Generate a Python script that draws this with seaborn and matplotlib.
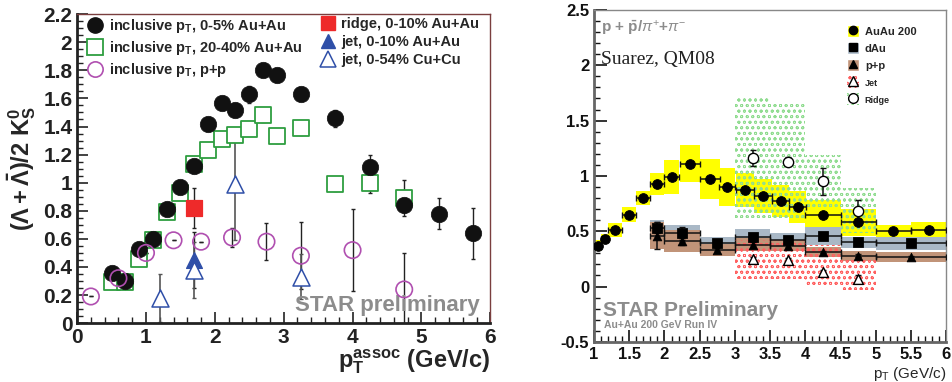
import numpy as np
import pandas as pd
import matplotlib
matplotlib.use("Agg")
import matplotlib.pyplot as plt
import seaborn as sns
from matplotlib.lines import Line2D
from matplotlib.patches import Patch
from matplotlib.ticker import MultipleLocator, FormatStrFormatter

sns.set_theme(style="ticks")
plt.rcParams["font.family"] = ["Liberation Sans", "DejaVu Sans"]
plt.rcParams["mathtext.fontset"] = "custom"
plt.rcParams["mathtext.rm"] = "Liberation Sans"
plt.rcParams["mathtext.bf"] = "Liberation Sans:bold"
plt.rcParams["mathtext.it"] = "Liberation Sans:italic"
plt.rcParams["hatch.linewidth"] = 0.6

# ---------------- left panel: (Lambda + anti-Lambda) / 2 K0s ----------------
auau05_pt = [0.5, 0.7, 0.9, 1.1, 1.3, 1.5, 1.7, 1.9, 2.1, 2.3, 2.5, 2.7, 2.9, 3.25, 3.75, 4.25, 4.75, 5.25, 5.75]
auau05_val = [0.36, 0.30, 0.53, 0.60, 0.81, 0.97, 1.12, 1.42, 1.57, 1.52, 1.63, 1.80, 1.77, 1.63, 1.46, 1.11, 0.84, 0.78, 0.64]
auau05_err = [0.01, 0.01, 0.01, 0.01, 0.01, 0.01, 0.01, 0.01, 0.02, 0.02, 0.06, 0.02, 0.02, 0.02, 0.06, 0.09, 0.05, 0.11, 0.18]

auau2040_pt = [0.5, 0.7, 0.9, 1.1, 1.3, 1.5, 1.7, 1.9, 2.1, 2.3, 2.5, 2.7, 2.9, 3.25, 3.75, 4.25, 4.75]
auau2040_val = [0.29, 0.29, 0.46, 0.59, 0.79, 0.93, 1.13, 1.23, 1.31, 1.34, 1.38, 1.48, 1.33, 1.39, 0.99, 1.00, 0.89]
auau2040_err = [0.01, 0.01, 0.01, 0.01, 0.01, 0.01, 0.01, 0.01, 0.01, 0.01, 0.01, 0.05, 0.05, 0.05, 0.05, 0.07, 0.13]

pp_pt = [0.2, 0.6, 1.0, 1.4, 1.8, 2.25, 2.75, 3.25, 4.0, 4.75]
pp_val = [0.19, 0.32, 0.50, 0.59, 0.58, 0.61, 0.58, 0.48, 0.52, 0.24]
pp_err = [0.0, 0.0, 0.0, 0.0, 0.0, 0.07, 0.13, 0.24, 0.29, 0.26]

ridge_pt = [1.7]
ridge_val = [0.82]
ridge_err = [0.14]

jetau_pt = [1.7]
jetau_val = [0.45]
jetau_err = [0.20]

jetcu_pt = [1.2, 1.7, 2.3, 3.25]
jetcu_val = [0.18, 0.38, 0.99, 0.33]
jetcu_err = [0.17, 0.20, 0.40, 0.16]

# ---------------- right panel: p + pbar / pi+ + pi- ----------------
auau_pt = [1.05, 1.15, 1.3, 1.5, 1.7, 1.9, 2.1, 2.36, 2.65, 2.89, 3.14, 3.4, 3.65, 3.89, 4.25, 4.75, 5.25, 5.75]
auau_w = [0.1, 0.1, 0.2, 0.2, 0.2, 0.2, 0.22, 0.28, 0.28, 0.22, 0.26, 0.26, 0.24, 0.24, 0.5, 0.5, 0.5, 0.5]
auau_val = [0.37, 0.43, 0.51, 0.65, 0.80, 0.93, 0.99, 1.11, 0.97, 0.90, 0.87, 0.82, 0.77, 0.72, 0.65, 0.58, 0.50, 0.51]
auau_sys = [0.05, 0.045, 0.06, 0.065, 0.065, 0.10, 0.15, 0.165, 0.18, 0.17, 0.155, 0.155, 0.145, 0.145, 0.13, 0.125, 0.06, 0.075]

dau_pt = [1.9, 2.25, 2.75, 3.25, 3.75, 4.25, 4.75, 5.5]
dau_w = [0.2, 0.5, 0.5, 0.5, 0.5, 0.5, 0.5, 1.0]
dau_val = [0.53, 0.48, 0.39, 0.45, 0.42, 0.46, 0.40, 0.39]
dau_err = [0.05, 0.06, 0.02, 0.02, 0.02, 0.02, 0.02, 0.03]
dau_sys = [0.07, 0.08, 0.06, 0.07, 0.06, 0.08, 0.05, 0.06]

ppr_pt = [1.9, 2.25, 2.75, 3.25, 3.75, 4.25, 4.75, 5.5]
ppr_w = [0.2, 0.5, 0.5, 0.5, 0.5, 0.5, 0.5, 1.0]
ppr_val = [0.46, 0.41, 0.33, 0.38, 0.37, 0.31, 0.28, 0.27]
ppr_err = [0.12, 0.03, 0.02, 0.02, 0.02, 0.01, 0.01, 0.01]
ppr_sys = [0.12, 0.10, 0.055, 0.06, 0.05, 0.045, 0.045, 0.045]

jet_pt = [3.25, 3.75, 4.25, 4.75]
jet_val = [0.25, 0.24, 0.13, 0.07]
jet_err = [0.02, 0.02, 0.02, 0.03]
jet_lo = [0.07, 0.07, 0.0, -0.03]
jet_hi = [0.42, 0.42, 0.38, 0.24]

rdg_pt = [3.25, 3.75, 4.25, 4.75]
rdg_val = [1.16, 1.13, 0.95, 0.68]
rdg_err = [0.07, 0.04, 0.12, 0.10]
rdg_lo = [0.62, 0.62, 0.72, 0.48]
rdg_hi = [1.72, 1.67, 1.19, 0.89]

fig = plt.figure(figsize=(9.52, 3.82), dpi=100)
ax1 = fig.add_axes([0.081, 0.154, 0.434, 0.809])
ax2 = fig.add_axes([0.624, 0.105, 0.370, 0.869])

# ---- left panel ----
green = "#2e9e40"
purple = "#b04fb0"
red = "#ee2a2a"
blue = "#2f4fa8"

ax1.errorbar(auau05_pt, auau05_val, yerr=auau05_err, fmt="none", ecolor="#222222", elinewidth=1, capsize=1.5, zorder=2)
ax1.errorbar(auau2040_pt, auau2040_val, yerr=auau2040_err, fmt="none", ecolor="#222222", elinewidth=1, capsize=1.5, zorder=2)
ax1.errorbar(pp_pt, pp_val, yerr=pp_err, fmt="none", ecolor="#222222", elinewidth=1, capsize=1.5, zorder=2)
ax1.errorbar(ridge_pt, ridge_val, yerr=ridge_err, fmt="none", ecolor="#222222", elinewidth=1, capsize=1.5, zorder=2)
ax1.errorbar(jetau_pt, jetau_val, yerr=jetau_err, fmt="none", ecolor="#222222", elinewidth=1, capsize=1.5, zorder=2)
ax1.errorbar(jetcu_pt, jetcu_val, yerr=jetcu_err, fmt="none", ecolor="#555555", elinewidth=1.2, capsize=1.5, zorder=2)

sns.scatterplot(x=auau2040_pt, y=auau2040_val, ax=ax1, marker="s", s=140, facecolor="white",
                edgecolor=green, linewidth=1.3, zorder=3)
sns.scatterplot(x=auau05_pt, y=auau05_val, ax=ax1, marker="o", s=140, color="#111111",
                edgecolor="#111111", linewidth=0.5, zorder=4)
sns.scatterplot(x=pp_pt, y=pp_val, ax=ax1, marker="o", s=140, facecolor="none",
                edgecolor=purple, linewidth=1.2, zorder=4)
sns.scatterplot(x=ridge_pt, y=ridge_val, ax=ax1, marker="s", s=120, color=red,
                edgecolor=red, zorder=4)
sns.scatterplot(x=jetau_pt, y=jetau_val, ax=ax1, marker="^", s=130, color=blue,
                edgecolor=blue, zorder=4)
sns.scatterplot(x=jetcu_pt, y=jetcu_val, ax=ax1, marker="^", s=150, facecolor="white",
                edgecolor=blue, linewidth=1.1, zorder=5)

ax1.set_xlim(0, 6)
ax1.set_ylim(0, 2.2)
ax1.xaxis.set_major_locator(MultipleLocator(1))
ax1.xaxis.set_minor_locator(MultipleLocator(0.2))
ax1.yaxis.set_major_locator(MultipleLocator(0.2))
ax1.yaxis.set_minor_locator(MultipleLocator(0.05))
ax1.yaxis.set_major_formatter(FormatStrFormatter("%g"))
ax1.tick_params(which="both", direction="in", colors="#222222", labelsize=15)
ax1.tick_params(which="major", length=8, width=1.2)
ax1.tick_params(which="minor", length=4, width=1)
for lab in ax1.get_xticklabels() + ax1.get_yticklabels():
    lab.set_fontweight("bold")
for sp in ["left", "bottom"]:
    ax1.spines[sp].set_linewidth(2)
    ax1.spines[sp].set_color("#222222")
for sp in ["top", "right"]:
    ax1.spines[sp].set_linewidth(1)
    ax1.spines[sp].set_color("#7a3e3e")

ax1.set_ylabel(r"$\mathbf{(\Lambda+\bar{\Lambda})/2\ K^0_S}$", fontsize=17, labelpad=4)
ax1.set_xlabel(r"$\mathbf{p_T^{assoc}}$ (GeV/c)", fontsize=17, fontweight="bold", loc="right", labelpad=0)
ax1.text(5.85, 0.05, "STAR preliminary", color="#8c8c8c", fontsize=16, fontweight="bold",
         ha="right", va="bottom")

h1 = [Line2D([], [], marker="o", color="#111111", ls="none", markersize=11),
      Line2D([], [], marker="s", markerfacecolor="white", markeredgecolor=green, ls="none", markersize=11, mew=1.3),
      Line2D([], [], marker="o", markerfacecolor="white", markeredgecolor=purple, ls="none", markersize=11, mew=1.2)]
l1 = [r"inclusive p$_\mathbf{T}$, 0-5% Au+Au", r"inclusive p$_\mathbf{T}$, 20-40% Au+Au", r"inclusive p$_\mathbf{T}$, p+p"]
leg1 = ax1.legend(h1, l1, loc="upper left", bbox_to_anchor=(0.0, 1.02), frameon=False,
                  prop={"size": 10.5, "weight": "bold"}, handletextpad=0.4, labelspacing=0.3,
                  handlelength=1.2, borderaxespad=0.2)
ax1.add_artist(leg1)
h2 = [Line2D([], [], marker="s", color=red, ls="none", markersize=10),
      Line2D([], [], marker="^", color=blue, ls="none", markersize=10),
      Line2D([], [], marker="^", markerfacecolor="white", markeredgecolor=blue, ls="none", markersize=11, mew=1.1)]
l2 = ["ridge, 0-10% Au+Au", "jet, 0-10% Au+Au", "jet, 0-54% Cu+Cu"]
ax1.legend(h2, l2, loc="upper left", bbox_to_anchor=(0.565, 1.02), frameon=False,
           prop={"size": 10.5, "weight": "bold"}, handletextpad=0.3, labelspacing=0.3,
           handlelength=1.2, borderaxespad=0.2)

# ---- right panel ----
yellow = "#ffff00"
grayblue = "#a9b8c6"
brown = "#c19479"
jetred = "#ff6060"
rdggreen = "#90dc90"

auau_lo = [v - s for v, s in zip(auau_val, auau_sys)]
dau_lo = [v - s for v, s in zip(dau_val, dau_sys)]
ppr_lo = [v - s for v, s in zip(ppr_val, ppr_sys)]

ax2.bar(auau_pt, [2 * s for s in auau_sys], width=auau_w, bottom=auau_lo, color=yellow, linewidth=0, zorder=1)
ax2.bar(dau_pt, [2 * s for s in dau_sys], width=dau_w, bottom=dau_lo, color=grayblue, linewidth=0, zorder=1)
ax2.bar(ppr_pt, [2 * s for s in ppr_sys], width=ppr_w, bottom=ppr_lo, color=brown, linewidth=0, zorder=1.5)
ax2.bar(jet_pt, [h - l for h, l in zip(jet_hi, jet_lo)], width=0.5, bottom=jet_lo, facecolor="none",
        edgecolor=jetred, hatch="ooo", linewidth=0, zorder=2)
ax2.bar(rdg_pt, [h - l for h, l in zip(rdg_hi, rdg_lo)], width=0.5, bottom=rdg_lo, facecolor="none",
        edgecolor=rdggreen, hatch="ooo", linewidth=0, zorder=2)

ax2.errorbar(auau_pt, auau_val, xerr=[w / 2 for w in auau_w], fmt="none", ecolor="#111111", elinewidth=1.1, capsize=2, zorder=3)
ax2.errorbar(dau_pt, dau_val, xerr=[w / 2 for w in dau_w], yerr=dau_err, fmt="none", ecolor="#111111", elinewidth=1.1, capsize=2, zorder=3)
ax2.errorbar(ppr_pt, ppr_val, xerr=[w / 2 for w in ppr_w], yerr=ppr_err, fmt="none", ecolor="#111111", elinewidth=1.1, capsize=2, zorder=3)
ax2.errorbar(jet_pt, jet_val, yerr=jet_err, fmt="none", ecolor="#111111", elinewidth=1.1, capsize=2, zorder=3)
ax2.errorbar(rdg_pt, rdg_val, yerr=rdg_err, fmt="none", ecolor="#111111", elinewidth=1.1, capsize=2.5, zorder=3)

sns.scatterplot(x=auau_pt, y=auau_val, ax=ax2, marker="o", s=50, color="black", edgecolor="black", zorder=4)
sns.scatterplot(x=dau_pt, y=dau_val, ax=ax2, marker="s", s=50, color="black", edgecolor="black", zorder=4)
sns.scatterplot(x=ppr_pt, y=ppr_val, ax=ax2, marker="^", s=40, color="black", edgecolor="black", zorder=4)
sns.scatterplot(x=jet_pt, y=jet_val, ax=ax2, marker="^", s=50, facecolor="white", edgecolor="black", linewidth=1, zorder=4)
sns.scatterplot(x=rdg_pt, y=rdg_val, ax=ax2, marker="o", s=55, facecolor="white", edgecolor="black", linewidth=1, zorder=4)

ax2.set_xlim(1, 6)
ax2.set_ylim(-0.5, 2.5)
ax2.xaxis.set_major_locator(MultipleLocator(0.5))
ax2.xaxis.set_minor_locator(MultipleLocator(0.1))
ax2.yaxis.set_major_locator(MultipleLocator(0.5))
ax2.yaxis.set_minor_locator(MultipleLocator(0.1))
ax2.xaxis.set_major_formatter(FormatStrFormatter("%g"))
ax2.yaxis.set_major_formatter(FormatStrFormatter("%g"))
ax2.tick_params(which="both", direction="in", colors="#111111", labelsize=12)
ax2.tick_params(which="major", length=9, width=1.2)
ax2.tick_params(which="minor", length=4, width=1)
for lab in ax2.get_xticklabels() + ax2.get_yticklabels():
    lab.set_fontweight("bold")
for sp in ["left", "bottom"]:
    ax2.spines[sp].set_linewidth(2)
    ax2.spines[sp].set_color("#666666")
for sp in ["top", "right"]:
    ax2.spines[sp].set_linewidth(1)
    ax2.spines[sp].set_color("#888888")

ax2.set_xlabel(r"p$_\mathrm{T}$ (GeV/c)", fontsize=11, loc="right", labelpad=2)
ax2.text(0.02, 0.975, r"p + $\mathbf{\bar{p}}$/$\pi^{+}$+$\pi^{-}$", transform=ax2.transAxes, color="#8c8c8c",
         fontsize=11, fontweight="bold", ha="left", va="top")
ax2.text(0.02, 0.875, "Suarez, QM08", transform=ax2.transAxes, fontsize=14, family="Liberation Serif",
         color="#222222", ha="left", va="top")
ax2.text(0.025, 0.077, "STAR Preliminary", transform=ax2.transAxes, color="#8c8c8c", fontsize=15,
         fontweight="bold", ha="left", va="baseline")
ax2.text(0.027, 0.042, "Au+Au 200 GeV Run IV", transform=ax2.transAxes, color="#8c8c8c", fontsize=7.5,
         fontweight="bold", ha="left", va="baseline")

hr = [(Patch(facecolor=yellow), Line2D([], [], marker="o", color="black", ls="none", markersize=6)),
      (Patch(facecolor=grayblue), Line2D([], [], marker="s", color="black", ls="none", markersize=6)),
      (Patch(facecolor=brown), Line2D([], [], marker="^", color="black", ls="none", markersize=6)),
      (Patch(facecolor="none", edgecolor=jetred, hatch="ooo", linewidth=0),
       Line2D([], [], marker="^", markerfacecolor="white", markeredgecolor="black", ls="none", markersize=7)),
      (Patch(facecolor="none", edgecolor=rdggreen, hatch="ooo", linewidth=0),
       Line2D([], [], marker="o", markerfacecolor="white", markeredgecolor="black", ls="none", markersize=7))]
lr = ["AuAu 200", "dAu", "p+p", "Jet", "Ridge"]
legr = ax2.legend(hr, lr, loc="upper left", bbox_to_anchor=(0.69, 0.985), frameon=False,
                  prop={"size": 8, "weight": "bold"}, handlelength=1.1, handleheight=1.3,
                  labelspacing=0.45, handletextpad=0.5)
for t in legr.get_texts()[3:]:
    t.set_fontsize(6.5)

fig.savefig("out.png", dpi=100)
